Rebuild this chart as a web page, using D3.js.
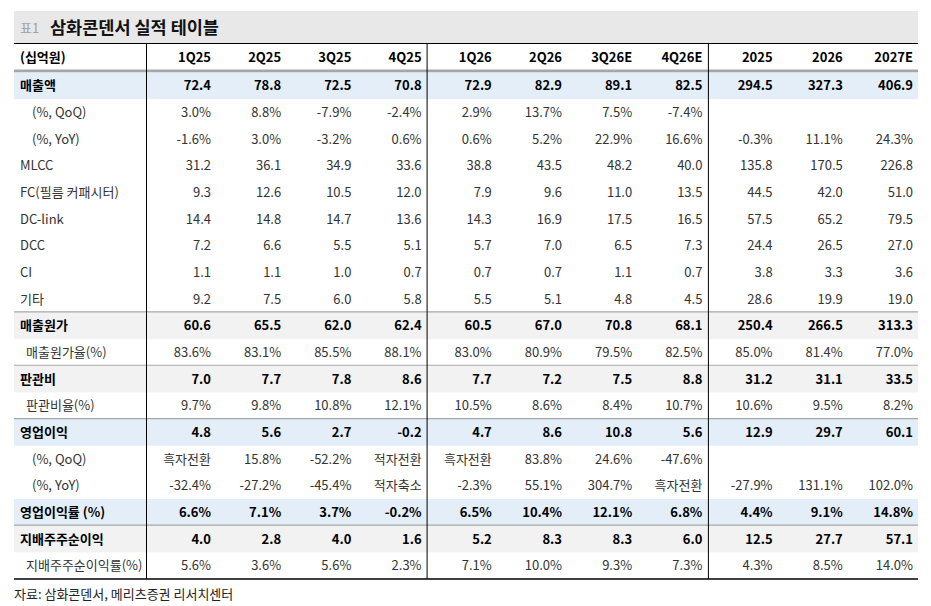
<!DOCTYPE html>
<html>
<head>
<meta charset="utf-8">
<script src="https://cdn.jsdelivr.net/npm/d3@7"></script>
<style>
  body { margin: 0; background: #fff; }
  text { font-family: "Noto Sans CJK KR", "Noto Sans", sans-serif; }
</style>
</head>
<body>
<div id="chart"></div>
<script>
// columns
const columns = ["1Q25", "2Q25", "3Q25", "4Q25", "1Q26", "2Q26", "3Q26E", "4Q26E", "2025", "2026", "2027E"];

// rows (십억원, %)
const revenue      = [72.4, 78.8, 72.5, 70.8, 72.9, 82.9, 89.1, 82.5, 294.5, 327.3, 406.9];
const revenueQoQ   = [3.0, 8.8, -7.9, -2.4, 2.9, 13.7, 7.5, -7.4, null, null, null];
const revenueYoY   = [-1.6, 3.0, -3.2, 0.6, 0.6, 5.2, 22.9, 16.6, -0.3, 11.1, 24.3];
const mlcc         = [31.2, 36.1, 34.9, 33.6, 38.8, 43.5, 48.2, 40.0, 135.8, 170.5, 226.8];
const filmCap      = [9.3, 12.6, 10.5, 12.0, 7.9, 9.6, 11.0, 13.5, 44.5, 42.0, 51.0];
const dcLink       = [14.4, 14.8, 14.7, 13.6, 14.3, 16.9, 17.5, 16.5, 57.5, 65.2, 79.5];
const dcc          = [7.2, 6.6, 5.5, 5.1, 5.7, 7.0, 6.5, 7.3, 24.4, 26.5, 27.0];
const ci           = [1.1, 1.1, 1.0, 0.7, 0.7, 0.7, 1.1, 0.7, 3.8, 3.3, 3.6];
const others       = [9.2, 7.5, 6.0, 5.8, 5.5, 5.1, 4.8, 4.5, 28.6, 19.9, 19.0];
const cogs         = [60.6, 65.5, 62.0, 62.4, 60.5, 67.0, 70.8, 68.1, 250.4, 266.5, 313.3];
const cogsRatio    = [83.6, 83.1, 85.5, 88.1, 83.0, 80.9, 79.5, 82.5, 85.0, 81.4, 77.0];
const sga          = [7.0, 7.7, 7.8, 8.6, 7.7, 7.2, 7.5, 8.8, 31.2, 31.1, 33.5];
const sgaRatio     = [9.7, 9.8, 10.8, 12.1, 10.5, 8.6, 8.4, 10.7, 10.6, 9.5, 8.2];
const opProfit     = [4.8, 5.6, 2.7, -0.2, 4.7, 8.6, 10.8, 5.6, 12.9, 29.7, 60.1];
const opQoQ        = ["흑자전환", 15.8, -52.2, "적자전환", "흑자전환", 83.8, 24.6, -47.6, null, null, null];
const opYoY        = [-32.4, -27.2, -45.4, "적자축소", -2.3, 55.1, 304.7, "흑자전환", -27.9, 131.1, 102.0];
const opMargin     = [6.6, 7.1, 3.7, -0.2, 6.5, 10.4, 12.1, 6.8, 4.4, 9.1, 14.8];
const netIncome    = [4.0, 2.8, 4.0, 1.6, 5.2, 8.3, 8.3, 6.0, 12.5, 27.7, 57.1];
const netMargin    = [5.6, 3.6, 5.6, 2.3, 7.1, 10.0, 9.3, 7.3, 4.3, 8.5, 14.0];

const rows = [
  {label: "매출액", values: revenue, style: "blue", pct: false, indent: 0},
  {label: "(%, QoQ)", values: revenueQoQ, style: null, pct: true, indent: 2},
  {label: "(%, YoY)", values: revenueYoY, style: null, pct: true, indent: 2},
  {label: "MLCC", values: mlcc, style: null, pct: false, indent: 0},
  {label: "FC(필름 커패시터)", values: filmCap, style: null, pct: false, indent: 0},
  {label: "DC-link", values: dcLink, style: null, pct: false, indent: 0},
  {label: "DCC", values: dcc, style: null, pct: false, indent: 0},
  {label: "CI", values: ci, style: null, pct: false, indent: 0},
  {label: "기타", values: others, style: null, pct: false, indent: 0},
  {label: "매출원가", values: cogs, style: "gray", pct: false, indent: 0, line: true},
  {label: "매출원가율(%)", values: cogsRatio, style: null, pct: true, indent: 1},
  {label: "판관비", values: sga, style: "gray", pct: false, indent: 0, line: true},
  {label: "판관비율(%)", values: sgaRatio, style: null, pct: true, indent: 1},
  {label: "영업이익", values: opProfit, style: "blue", pct: false, indent: 0, line: true},
  {label: "(%, QoQ)", values: opQoQ, style: null, pct: true, indent: 2},
  {label: "(%, YoY)", values: opYoY, style: null, pct: true, indent: 2},
  {label: "영업이익률 (%)", values: opMargin, style: "blue", pct: true, indent: 0},
  {label: "지배주주순이익", values: netIncome, style: "gray", pct: false, indent: 0, line: true},
  {label: "지배주주순이익률(%)", values: netMargin, style: null, pct: true, indent: 1}
];

const W = 931, H = 606;
const left = 14, right = 918;

const svg = d3.select("#chart").append("svg")
  .attr("width", W).attr("height", H);

const x = d3.scaleLinear().domain([0, columns.length - 1]).range([211, 913]);
const y = d3.scaleBand().domain(d3.range(rows.length)).range([72.5, 579]).padding(0);

const fills = {blue: "#e4eef9", gray: "#f2f2f2"};
const fmt = v => d3.format(".1f")(v).replace("−", "-");

// title band
svg.append("rect").attr("x", left).attr("y", 11).attr("width", right - left).attr("height", 32).attr("fill", "#e8e8e8");
svg.append("text").attr("x", 20).attr("y", 33).attr("font-size", 13).attr("fill", "#a0a0a0").text("표1");
svg.append("text").attr("x", 50).attr("y", 33.5).attr("font-size", 17.5).attr("font-weight", "bold").attr("fill", "#111").text("삼화콘덴서 실적 테이블");

// header
svg.append("line").attr("x1", left).attr("x2", right).attr("y1", 43.5).attr("y2", 43.5).attr("stroke", "#000");
svg.append("text").attr("x", 20).attr("y", 57).attr("dy", "0.35em").attr("font-size", 13).attr("font-weight", "bold").text("(십억원)");
svg.selectAll(".colhead").data(columns).enter().append("text")
  .attr("class", "colhead")
  .attr("x", (d, i) => x(i)).attr("y", 57).attr("dy", "0.35em")
  .attr("text-anchor", "end").attr("font-size", 13).attr("font-weight", "bold")
  .text(d => d);
svg.append("line").attr("x1", left).attr("x2", right).attr("y1", 71).attr("y2", 71).attr("stroke", "#a6a6a6").attr("stroke-width", 3);

// row bands
svg.selectAll(".band").data(rows.filter(r => r.style)).enter().append("rect")
  .attr("class", "band")
  .attr("x", left).attr("width", right - left)
  .attr("y", d => y(rows.indexOf(d))).attr("height", y.bandwidth())
  .attr("fill", d => fills[d.style]);

// separators
svg.selectAll(".sep").data(rows.filter(r => r.line)).enter().append("line")
  .attr("class", "sep")
  .attr("x1", left).attr("x2", right)
  .attr("y1", d => y(rows.indexOf(d)) - 0.5).attr("y2", d => y(rows.indexOf(d)) - 0.5)
  .attr("stroke", "#a6a6a6").attr("stroke-width", 1.2);

// row text
const rowG = svg.selectAll(".row").data(rows).enter().append("g")
  .attr("class", "row")
  .attr("transform", (d, i) => `translate(0,${y(i) + y.bandwidth() / 2})`);

rowG.append("text")
  .attr("x", d => [20, 26, 32][d.indent])
  .attr("dy", "0.35em").attr("font-size", 13)
  .attr("font-weight", d => d.style ? "bold" : "normal")
  .attr("fill", d => d.style ? "#000" : "#333")
  .text(d => d.label);

rowG.each(function(r) {
  d3.select(this).selectAll(".val").data(r.values).enter().append("text")
    .attr("class", "val")
    .attr("x", (d, i) => x(i)).attr("dy", "0.35em")
    .attr("text-anchor", "end").attr("font-size", 13)
    .attr("font-weight", r.style ? "bold" : "normal")
    .attr("fill", r.style ? "#000" : "#333")
    .text(d => d == null ? "" : (typeof d === "string" ? d : fmt(d) + (r.pct ? "%" : "")));
});

// bottom line and dividers
svg.append("line").attr("x1", left).attr("x2", right).attr("y1", 579).attr("y2", 579).attr("stroke", "#000").attr("stroke-width", 1.5);
[146.5, x(3) + 5.5, x(7) + 6].forEach(vx => {
  svg.append("line").attr("x1", vx).attr("x2", vx).attr("y1", 43.5).attr("y2", 579).attr("stroke", "#000");
});

// source
svg.append("text").attr("x", 14).attr("y", 594).attr("dy", "0.35em").attr("font-size", 13).attr("fill", "#222")
  .text("자료: 삼화콘덴서, 메리츠증권 리서치센터");
</script>
</body>
</html>
